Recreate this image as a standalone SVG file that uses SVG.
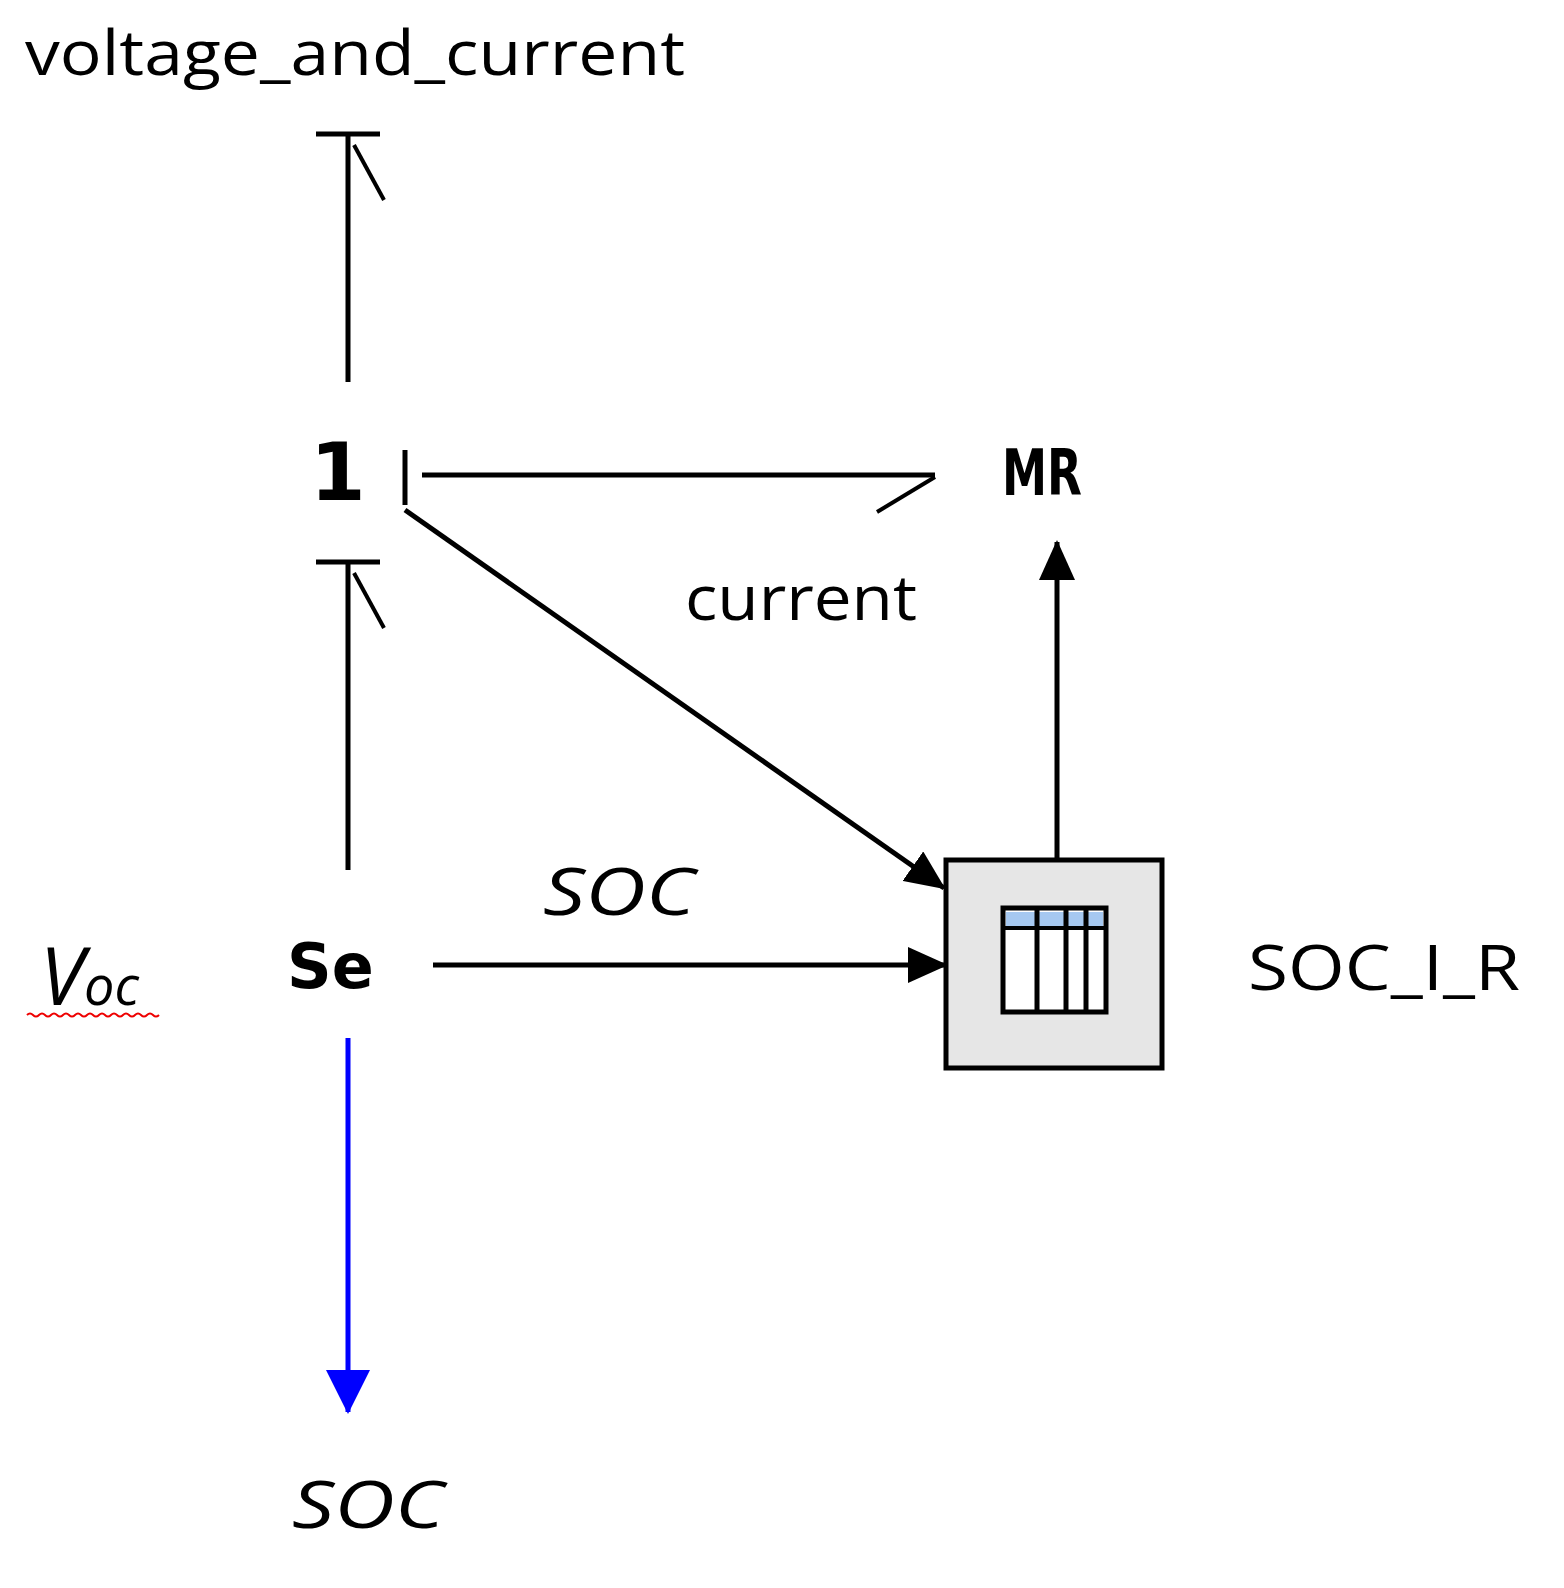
<svg xmlns="http://www.w3.org/2000/svg" width="1564" height="1588" viewBox="0 0 1564 1588">
<style>
.ln{stroke:#000;stroke-width:5;fill:none}
.t{font-family:"Open Sans","Liberation Sans",Arial,sans-serif;fill:#000}
.b{font-family:"DejaVu Sans",sans-serif;font-weight:bold;fill:#000}
</style>
<defs>
<marker id="ah" markerWidth="40" markerHeight="36" refX="38" refY="18" orient="auto" markerUnits="userSpaceOnUse" viewBox="0 0 40 36"><path d="M0,0 L40,18 L0,36 z" fill="#000"/></marker>
</defs>
<rect width="1564" height="1588" fill="#fff"/>
<g id="labels">
<text class="t" x="25" y="75" font-size="62" textLength="660" lengthAdjust="spacingAndGlyphs">voltage_and_current</text>
<text class="t" x="685" y="620" font-size="62" textLength="232" lengthAdjust="spacingAndGlyphs">current</text>
<text class="t" x="543" y="915" font-size="66" font-style="italic" textLength="152" lengthAdjust="spacingAndGlyphs">SOC</text>
<text class="t" x="292" y="1528" font-size="66" font-style="italic" textLength="152" lengthAdjust="spacingAndGlyphs">SOC</text>
<text class="t" x="1248" y="990" font-size="62" textLength="272" lengthAdjust="spacingAndGlyphs">SOC_I_R</text>
<text class="t" x="40" y="1005" font-size="80" font-style="italic">V<tspan font-size="54">oc</tspan></text>
<path d="M27,1015 q3,-3 6,0 t6,0 t6,0 t6,0 t6,0 t6,0 t6,0 t6,0 t6,0 t6,0 t6,0 t6,0 t6,0 t6,0 t6,0 t6,0 t6,0 t6,0 t6,0 t6,0 t6,0 t6,0" stroke="#e00" stroke-width="2" fill="none"/>
</g>
<g id="node-1"><text class="b" x="310" y="500" font-size="80">1</text></g>
<g id="node-MR"><text class="b" x="1002" y="495" font-size="64" textLength="80" lengthAdjust="spacingAndGlyphs">MR</text></g>
<g id="node-Se"><text class="b" x="287" y="988" font-size="62">Se</text></g>
<g id="node-table">
<rect x="946" y="860" width="216" height="208" fill="#e6e6e6" stroke="#000" stroke-width="5"/>
<rect x="1003" y="908" width="103" height="104" fill="#fff" stroke="#000" stroke-width="5"/>
<rect x="1006" y="912" width="97" height="14" fill="#a6c8f0"/>
<line x1="1003" y1="928" x2="1106" y2="928" stroke="#000" stroke-width="4"/>
<line x1="1037" y1="908" x2="1037" y2="1012" stroke="#000" stroke-width="5"/>
<line x1="1066" y1="908" x2="1066" y2="1012" stroke="#000" stroke-width="5"/>
<line x1="1086" y1="908" x2="1086" y2="1012" stroke="#000" stroke-width="5"/>
</g>
<g id="connectors">
<line class="ln" x1="348" y1="382" x2="348" y2="132"/>
<line class="ln" x1="316" y1="134" x2="380" y2="134" stroke-width="8"/>
<line x1="354" y1="145" x2="384" y2="200" stroke="#000" stroke-width="4"/>
<line class="ln" x1="348" y1="870" x2="348" y2="562"/>
<line class="ln" x1="316" y1="562" x2="380" y2="562" stroke-width="8"/>
<line x1="354" y1="573" x2="384" y2="628" stroke="#000" stroke-width="4"/>
<line class="ln" x1="405" y1="450" x2="405" y2="505" stroke-width="8"/>
<line class="ln" x1="422" y1="475" x2="935" y2="475"/>
<line x1="935" y1="477" x2="877" y2="512" stroke="#000" stroke-width="4"/>
<line class="ln" x1="405" y1="510" x2="944" y2="888" stroke-width="4" marker-end="url(#ah)"/>
<line class="ln" x1="1057" y1="858" x2="1057" y2="542" marker-end="url(#ah)"/>
<line class="ln" x1="433" y1="965" x2="946" y2="965" marker-end="url(#ah)"/>
<line x1="348" y1="1038" x2="348" y2="1412" stroke="#00f" stroke-width="5"/>
<path d="M326,1370 L370,1370 L348,1414 z" fill="#00f"/>
</g>
</svg>
